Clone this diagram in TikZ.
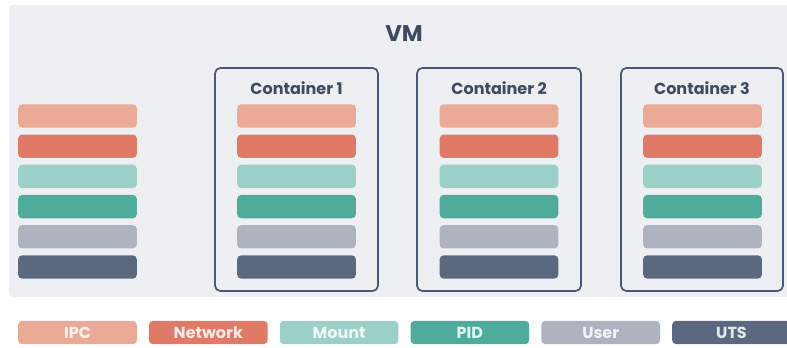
\documentclass[tikz,border=0pt]{standalone}
\usepackage{fontspec}
\setmainfont{Poppins}
\definecolor{bgvm}{HTML}{EEEFF3}
\definecolor{ipc}{HTML}{EAAA96}
\definecolor{net}{HTML}{E07A66}
\definecolor{mnt}{HTML}{9BD0C9}
\definecolor{pid}{HTML}{4FAC9D}
\definecolor{usr}{HTML}{ADB4C0}
\definecolor{uts}{HTML}{5A6980}
\definecolor{frame}{HTML}{4A5A75}
\definecolor{ink}{HTML}{3D4A60}
\tikzset{
  nsbar/.style={rounded corners=3pt, inner sep=0pt, minimum width=89pt, minimum height=17.5pt},
  ctbox/.style={draw=frame, line width=1.3pt, rounded corners=4pt},
  ctlabel/.style={text=ink, font=\fontsize{12}{14}\selectfont\bfseries},
  legendbox/.style={nsbar, text=white, text opacity=0.85, font=\fontsize{12}{14}\selectfont\bfseries},
}
\begin{document}
\begin{tikzpicture}[x=0.75pt,y=-0.75pt]
\useasboundingbox (0,0) rectangle (787,348);
% VM area
\fill[bgvm, rounded corners=3pt] (9,5) rectangle (795,297);
\node[text=ink, font=\fontsize{17}{19}\selectfont\bfseries] (vm) at (404,34) {VM};
% containers
\draw[ctbox] (215,68) rectangle (378,291);
\draw[ctbox] (417,68) rectangle (581,291);
\draw[ctbox] (621,68) rectangle (783,291);
\node[ctlabel] (c1) at (296.5,88) {Container 1};
\node[ctlabel] (c2) at (499,88) {Container 2};
\node[ctlabel] (c3) at (702,88) {Container 3};
% namespace stacks
\foreach \col/\cx in {h/77.5, a/296.5, b/499, c/702.5}{
  \foreach \clr [count=\i from 0] in {ipc,net,mnt,pid,usr,uts}{
    \node[nsbar, fill=\clr] (\col\i) at (\cx,{116+30.2*\i}) {};
  }
}
% legend
\foreach \clr/\txt [count=\i from 0] in {ipc/IPC,net/Network,mnt/Mount,pid/PID,usr/User,uts/UTS}{
  \node[legendbox, fill=\clr] (lg\i) at ({77.5+130.8*\i},332.5) {\txt};
}
\end{tikzpicture}
\end{document}
